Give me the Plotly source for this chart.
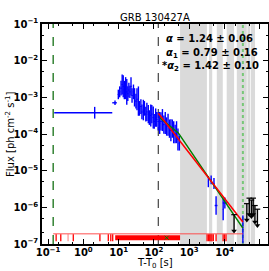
import numpy as np
import plotly.graph_objects as go

# ---------------- data ----------------
# dense early light curve (BAT-like), time [s], flux [ph cm^-2 s^-1], error in dex
t_dense = [9.8, 10.7, 11.7, 12.6, 13.5, 14.5, 15.8, 17.0, 18.2, 19.5, 20.9, 22.4, 24.0,
           26.3, 28.2, 30.9, 33.1, 36.3, 38.9, 42.7, 45.7, 50.1, 53.7, 58.9, 63.1, 69.2,
           74.1, 81.3, 87.1, 95.5, 102, 112, 120, 132, 145, 158, 174, 191, 209, 229, 251,
           275, 302, 331, 363, 398, 437, 479, 525]
f_dense = [1.20e-3, 1.41e-3, 1.78e-3, 2.24e-3, 2.0e-3, 1.58e-3, 1.78e-3, 1.41e-3, 1.26e-3,
           1.58e-3, 1.41e-3, 2.0e-3, 1.12e-3, 1.41e-3, 1.0e-3, 7.9e-4, 8.9e-4, 7.9e-4,
           5.0e-4, 5.6e-4, 4.0e-4, 4.5e-4, 5.0e-4, 3.5e-4, 4.0e-4, 3.5e-4, 2.8e-4, 3.2e-4,
           3.5e-4, 2.8e-4, 2.2e-4, 2.8e-4, 2.5e-4, 2.2e-4, 2.0e-4, 2.2e-4, 2.4e-4, 1.8e-4,
           2.0e-4, 1.6e-4, 1.8e-4, 1.4e-4, 1.26e-4, 1.4e-4, 1.12e-4, 1.0e-4, 1.12e-4,
           7.1e-5, 5.6e-5]
e_dense = [0.13, 0.15, 0.2, 0.27, 0.3, 0.25, 0.3, 0.35, 0.2, 0.2, 0.17, 0.25, 0.2, 0.2,
           0.25, 0.2, 0.3, 0.4, 0.2, 0.2, 0.2, 0.28, 0.2, 0.2, 0.25, 0.25, 0.2, 0.3, 0.25,
           0.3, 0.2, 0.25, 0.2, 0.25, 0.3, 0.25, 0.3, 0.25, 0.3, 0.25, 0.3, 0.25, 0.3,
           0.25, 0.3, 0.25, 0.3, 0.3, 0.2]

# individual blue points: time, t_lo, t_hi, flux, error (dex)
t_pts = [2.1, 7.9, 3470, 4170, 5010, 5750, 9120, 10200, 33000]
t_pts_lo = [0.15, 6.6, 3400, 4100, 4950, 5250, 9000, 8900, 32800]
t_pts_hi = [6.6, 8.9, 3540, 4250, 5070, 6300, 9250, 11700, 33200]
f_pts = [3.8e-4, 7.1e-4, 5.0e-6, 5.6e-6, 4.5e-6, 1.12e-6, 8.9e-7, 1.32e-6, 2.5e-7]
e_pts = [0.16, 0.06, 0.15, 0.12, 0.15, 0.25, 0.3, 0.15, 0.38]

# upper limits: time, flux limit
t_ul = [18600, 42700, 50100, 57500, 64600, 72400, 85100]
f_ul = [6.3e-7, 1.26e-6, 1.78e-6, 1.58e-6, 1.78e-6, 1.12e-6, 8.9e-7]

# fits
t0_red, f0_red, alpha = 133, 3.7e-4, 1.24
t0_grn, f0_grn, t_brk, alpha1, alpha2 = 148, 2.75e-4, 490, 0.79, 1.42
t_fit_end = 33000

# vertical lines
t_start = 0.14
t_black = 133
t_green2 = 33000

# occultation bands (gray)
band_lo = [550, 3630, 6030, 11500, 22200, 44500, 55000]
band_hi = [3160, 4470, 8900, 18600, 42500, 52500, 72900]

# rug marks along bottom
rug_t = [0.17, 0.23, 0.52, 2.95, 5.1, 6.0, 6.8, 3200, 3500, 3800, 4100, 4400, 4800,
         5750, 9100, 10000, 11000]
rug_faint_t = [0.37]
rug_band = [8.0, 550]
rug_line_f = 1.9e-7
rug_f = 1.48e-7
green_x_t = 230

# tick labels
x_tickvals = [0.1, 1, 10, 100, 1e3, 1e4, 1e5]
x_ticktext = ["10<sup>−1</sup>", "10<sup>0</sup>", "10<sup>1</sup>", "10<sup>2</sup>",
              "10<sup>3</sup>", "10<sup>4</sup>", "10<sup>5</sup>"]
y_tickvals = [1e-7, 1e-6, 1e-5, 1e-4, 1e-3, 1e-2, 1e-1]
y_ticktext = ["10<sup>−7</sup>", "10<sup>−6</sup>", "10<sup>−5</sup>", "10<sup>−4</sup>",
              "10<sup>−3</sup>", "10<sup>−2</sup>", "10<sup>−1</sup>"]

# ---------------- figure ----------------
fig = go.Figure()
YLO, YHI = 1e-7, 1e-1

for lo, hi in zip(band_lo, band_hi):
    fig.add_trace(go.Scatter(x=[lo, hi, hi, lo, lo], y=[YLO, YLO, YHI, YHI, YLO],
                             mode="lines", fill="toself", fillcolor="#dadada",
                             line=dict(width=0), hoverinfo="skip", showlegend=False))

fig.add_trace(go.Scatter(x=[t_start, t_start], y=[YLO, YHI], mode="lines",
                         line=dict(color="#006400", width=1.2, dash="dash"), showlegend=False))
fig.add_trace(go.Scatter(x=[t_black, t_black], y=[YLO, YHI], mode="lines",
                         line=dict(color="#444444", width=1.2, dash="dash"), showlegend=False))
fig.add_trace(go.Scatter(x=[t_green2, t_green2], y=[YLO, YHI], mode="lines",
                         line=dict(color="#77c777", width=2, dash="dot"), showlegend=False))

fd = np.array(f_dense)
ed = np.array(e_dense)
td = np.array(t_dense)
tl = np.sqrt(td * np.roll(td, 1)); tl[0] = td[0] / 1.04
th = np.sqrt(td * np.roll(td, -1)); th[-1] = td[-1] * 1.04
fig.add_trace(go.Scatter(x=td, y=fd, mode="markers", marker=dict(size=1, color="blue"),
                         error_y=dict(type="data", symmetric=False, array=fd * (10 ** ed - 1),
                                      arrayminus=fd * (1 - 10 ** -ed), color="blue",
                                      thickness=1.4, width=0),
                         error_x=dict(type="data", symmetric=False, array=th - td,
                                      arrayminus=td - tl, color="blue", thickness=1, width=0),
                         showlegend=False))

fp = np.array(f_pts); ep = np.array(e_pts); tp = np.array(t_pts)
fig.add_trace(go.Scatter(x=tp, y=fp, mode="markers", marker=dict(size=1, color="blue"),
                         error_y=dict(type="data", symmetric=False, array=fp * (10 ** ep - 1),
                                      arrayminus=fp * (1 - 10 ** -ep) * 0.999, color="blue",
                                      thickness=1.4, width=0),
                         error_x=dict(type="data", symmetric=False, array=np.array(t_pts_hi) - tp,
                                      arrayminus=tp - np.array(t_pts_lo), color="blue",
                                      thickness=1.4, width=0),
                         showlegend=False))

fig.add_trace(go.Scatter(x=[t0_grn, t_brk, t_fit_end],
                         y=[f0_grn, f0_grn * (t_brk / t0_grn) ** -alpha1,
                            f0_grn * (t_brk / t0_grn) ** -alpha1 * (t_fit_end / t_brk) ** -alpha2],
                         mode="lines", line=dict(color="green", width=1.5), showlegend=False))
fig.add_trace(go.Scatter(x=[t0_red, t_fit_end],
                         y=[f0_red, f0_red * (t_fit_end / t0_red) ** -alpha],
                         mode="lines", line=dict(color="red", width=1.5), showlegend=False))

ux, uy, ax_, ay_ = [], [], [], []
for t, f in zip(t_ul, f_ul):
    ux += [t, t, None]
    uy += [f, f / 2.8, None]
    ax_.append(t); ay_.append(f / 2.8)
fig.add_trace(go.Scatter(x=ux, y=uy, mode="lines", line=dict(color="black", width=1.4),
                         showlegend=False))
fig.add_trace(go.Scatter(x=ax_, y=ay_, mode="markers",
                         marker=dict(symbol="triangle-down", size=5, color="black"),
                         showlegend=False))
fig.add_trace(go.Scatter(x=t_ul, y=f_ul, mode="markers",
                         marker=dict(symbol="line-ew", size=4, line=dict(width=1.2, color="black")),
                         showlegend=False))

fig.add_trace(go.Scatter(x=[t_start, t_green2], y=[rug_line_f, rug_line_f], mode="lines",
                         line=dict(color="rgba(255,60,60,0.6)", width=1.5), showlegend=False))
fig.add_trace(go.Scatter(x=rug_band, y=[rug_f, rug_f], mode="lines",
                         line=dict(color="red", width=5), showlegend=False))
fig.add_trace(go.Scatter(x=rug_t, y=[rug_f] * len(rug_t), mode="markers",
                         marker=dict(symbol="line-ns", size=5, line=dict(width=1.3, color="red")),
                         showlegend=False))
fig.add_trace(go.Scatter(x=rug_faint_t, y=[rug_f] * len(rug_faint_t), mode="markers",
                         marker=dict(symbol="line-ns", size=5,
                                     line=dict(width=1.3, color="rgba(255,0,0,0.4)")),
                         showlegend=False))
fig.add_trace(go.Scatter(x=[green_x_t], y=[rug_f], mode="markers",
                         marker=dict(symbol="x-thin", size=4, line=dict(width=1, color="green")),
                         showlegend=False))

axis_common = dict(type="log", showgrid=False, zeroline=False, showline=True, linecolor="black",
                   linewidth=1.5, mirror="allticks", ticks="inside", ticklen=5, tickwidth=1,
                   tickcolor="black", automargin=False,
                   tickfont=dict(family="DejaVu Sans", size=10, color="black", weight="bold"),
                   minor=dict(ticks="inside", ticklen=2.5, tickwidth=0.8, tickcolor="black",
                              showgrid=False))
fig.update_xaxes(range=[-1.17, 5.23], tickvals=x_tickvals, ticktext=x_ticktext,
                 ticklabelstandoff=-2, **axis_common)
fig.update_yaxes(range=[-7, -1], tickvals=y_tickvals, ticktext=y_ticktext, **axis_common)

ann_font = dict(family="DejaVu Sans", size=10, color="black")
lab_font = dict(family="DejaVu Sans", size=10, color="black")
fig.update_layout(
    width=269, height=271, margin=dict(l=42, r=1, t=24, b=27),
    plot_bgcolor="white", paper_bgcolor="white",
    annotations=[
        dict(text="GRB 130427A", x=0.5, y=1.03, xref="paper", yref="paper", showarrow=False,
             xanchor="center", yanchor="middle", font=lab_font),
        dict(text="T-T<sub>0</sub> [s]", x=0.5, y=-0.09, xref="paper", yref="paper",
             showarrow=False, xanchor="center", yanchor="middle", font=lab_font),
        dict(text="Flux [ph cm<sup>-2</sup> s<sup>-1</sup>]", x=-0.142, y=0.5, xref="paper",
             yref="paper", showarrow=False, textangle=-90, xanchor="center", yanchor="middle",
             font=lab_font),
        dict(text="<b><i>α</i> = 1.24 ± 0.06</b>", x=0.54, y=0.936, xref="paper", yref="paper",
             showarrow=False, xanchor="left", yanchor="middle", font=ann_font),
        dict(text="<b><i>α</i><sub>1</sub> = 0.79 ± 0.16</b>", x=0.54, y=0.866, xref="paper",
             yref="paper", showarrow=False, xanchor="left", yanchor="middle", font=ann_font),
        dict(text="<b>*<i>α</i><sub>2</sub> = 1.42 ± 0.10</b>", x=0.522, y=0.805, xref="paper",
             yref="paper", showarrow=False, xanchor="left", yanchor="middle", font=ann_font),
    ],
)

fig.write_html("out.html", post_script="document.body.style.margin='0';",
               config={"displayModeBar": False})
